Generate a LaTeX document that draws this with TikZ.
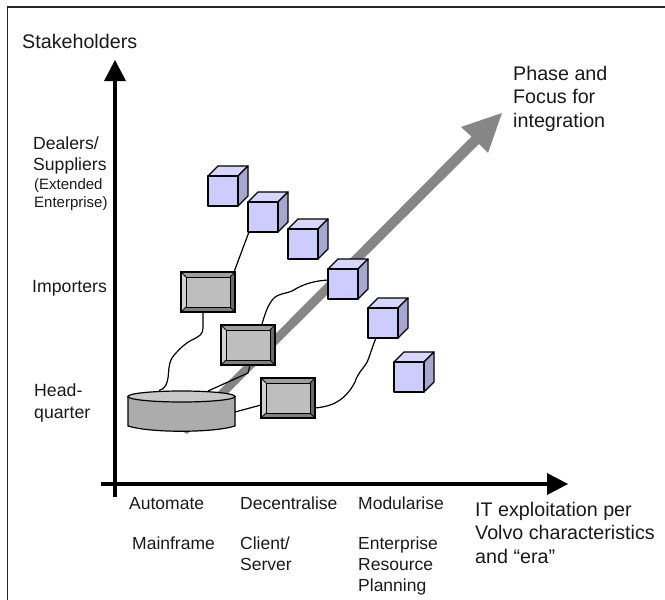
\documentclass[tikz,border=0pt]{standalone}
\usepackage{fontspec}
\setmainfont{Liberation Sans}
\definecolor{cubeF}{RGB}{204,204,255}
\definecolor{cubeT}{RGB}{214,214,255}
\definecolor{cubeS}{RGB}{166,166,208}
\definecolor{ph}{RGB}{134,134,134}
\definecolor{face}{RGB}{190,190,190}
\definecolor{cylside}{RGB}{172,172,172}
\definecolor{cyltop}{RGB}{200,200,200}
\tikzset{x=1pt,y=-1pt,
 lblbig/.style={font=\fontsize{19.7}{23.5}\selectfont,align=left,anchor=base west,inner sep=0pt,text=black!90},
 lblmid/.style={font=\fontsize{17.5}{21}\selectfont,align=left,anchor=base west,inner sep=0pt,text=black!90},
 lblsmall/.style={font=\fontsize{15}{18}\selectfont,align=left,anchor=base west,inner sep=0pt,text=black!90},
 link/.style={draw=black,line width=1.2pt,line join=round},
 axisline/.style={draw=black,line width=4.5pt},
 cubeface/.style={draw=black,line width=1.3pt,line join=round}}
\newcommand{\cube}[3]{%
 \begin{scope}[shift={(#2,#3)}]
 \filldraw[cubeface,fill=cubeT] (0,0) -- (10,-10) -- (40,-10) -- (30,0) -- cycle;
 \filldraw[cubeface,fill=cubeS] (30,0) -- (40,-10) -- (40,20) -- (30,30) -- cycle;
 \filldraw[cubeface,fill=cubeF] (0,0) rectangle (30,30);
 \end{scope}
 \coordinate (#1) at (#2,#3);}
\newcommand{\monitor}[3]{%
 \begin{scope}[shift={(#2,#3)}]
 \fill[black!38] (0,0) -- (54,0) -- (49,5) -- (5,5) -- cycle;
 \fill[black!58] (54,0) -- (54,40) -- (49,35) -- (49,5) -- cycle;
 \fill[black!50] (0,40) -- (54,40) -- (49,35) -- (5,35) -- cycle;
 \fill[black!18] (0,0) -- (0,40) -- (5,35) -- (5,5) -- cycle;
 \filldraw[draw=black,line width=.9pt,fill=face] (5,5) rectangle (49,35);
 \draw[black,line width=.8pt] (0,0)--(5,5) (54,0)--(49,5) (54,40)--(49,35) (0,40)--(5,35);
 \draw[black,line width=1.4pt] (0,0) rectangle (54,40);
 \end{scope}
 \coordinate (#1) at (#2,#3);}
\begin{document}
\begin{tikzpicture}
\useasboundingbox (0,0) rectangle (665,600);
\draw[black!85,line width=1.3pt] (7.5,610) -- (7.5,7) -- (670,7);
% phase arrow
\fill[ph] (180,430) -- (471.5,136.5) -- (461,127) -- (502,113) -- (488,153) -- (479,144) -- (187,434) -- cycle;
% axes
\coordinate (yb) at (115,497);
\coordinate (yt) at (115,60);
\coordinate (xl) at (101,484);
\coordinate (xr) at (568,484);
\draw[axisline] (yb) -- (115,80);
\fill[black] (yt) -- (126,81) -- (104,81) -- cycle;
\draw[axisline] (xl) -- (548,484);
\fill[black] (xr) -- (547,473) -- (547,495) -- cycle;
% monitors and cubes
\monitor{m1}{181}{272}
\monitor{m2}{221}{325}
\monitor{m3}{261}{378}
\cube{c1}{208}{176}
\cube{c2}{248}{202}
\cube{c3}{288}{229}
\cube{c4}{328}{269}
\cube{c5}{368}{308}
\cube{c6}{394}{362}
% cylinder
\coordinate (cyl) at (181.5,396.5);
\filldraw[draw=black,line width=1.2pt,fill=cylside] (128,396.5) -- (128,426) .. controls (150,433) and (213,433) .. (235,426) -- (235,396.5) -- cycle;
\filldraw[draw=black,line width=1.2pt,fill=cyltop] (cyl) ellipse [x radius=53.5,y radius=5.5];
% links
\draw[link] ([shift={(1,30)}]c2) .. controls (244,245) and (240,256) .. ([shift={(53,0)}]m1);
\draw[link] ([shift={(22,40)}]m1) -- (203,327) .. controls (203,335) and (199,336) .. (194,339) .. controls (186,342) and (176,352) .. (172,358) .. controls (168,365) and (169,372) .. (168,378) .. controls (167,384) and (165,389) .. (159,390.5);
\draw[link] ([shift={(0,11)}]c4) .. controls (315,281) and (305,283) .. (292,291) .. controls (285,294) and (280,293) .. (274,298) .. controls (268,304) and (265,314) .. ([shift={(41,-1)}]m2);
\draw[link] ([shift={(29,40)}]m2) -- (248,373) -- (208,391);
\draw[link] (235,412) -- ([shift={(0,27)}]m3);
\draw[link] ([shift={(54,30)}]m3) .. controls (325,407) and (333,405) .. (340,400) .. controls (347,395) and (352,388) .. (355,382) .. controls (358,372) and (366,366) .. (368,360) .. controls (371,352) and (373,345) .. ([shift={(8,30)}]c5);
% labels
\node[lblbig] (t1) at (22,48) {Stakeholders};
\node[lblmid,font=\fontsize{17.6}{21}\selectfont] (t2) at (33,170) {Dealers/\\Suppliers};
\node[lblsmall] (t3) at (34,207) {(Extended\\Enterprise)};
\node[lblmid,font=\fontsize{17.7}{21}\selectfont] (t4) at (32,292) {Importers};
\node[lblmid,font=\fontsize{17.7}{22}\selectfont] (t5) at (34,418) {Head-\\quarter};
\node[lblbig] (t6) at (513,127) {Phase and\\Focus for\\integration};
\node[lblmid] (t7) at (129,509) {Automate};
\node[lblmid] (t8) at (240,509) {Decentralise};
\node[lblmid] (t9) at (358,509) {Modularise};
\node[lblmid] (t10) at (132,549) {Mainframe};
\node[lblmid] (t11) at (240,570) {Client/\\Server};
\node[lblmid] (t12) at (358,591) {Enterprise\\Resource\\Planning};
\node[lblbig] (t13) at (475,563) {IT exploitation per\\Volvo characteristics\\and “era”};
\end{tikzpicture}
\end{document}
